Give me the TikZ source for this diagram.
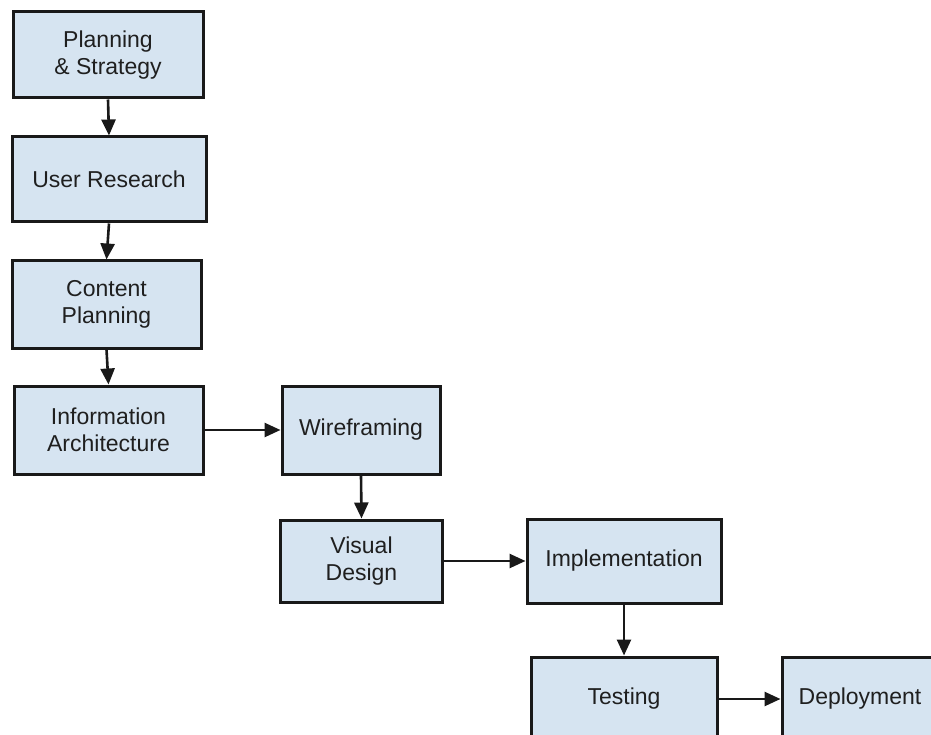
\documentclass[tikz,border=0pt]{standalone}
\usepackage{fontspec}
\setmainfont{Liberation Sans}
\usetikzlibrary{arrows.meta}
\definecolor{boxblue}{RGB}{214,228,241}
\definecolor{edge}{RGB}{25,25,25}
\begin{document}
\begin{tikzpicture}[x=1pt,y=-1pt,
  stage/.style={draw=edge, line width=3pt, fill=boxblue, align=center,
    inner sep=0pt, text=black!88,
    font=\fontsize{23}{26.5}\selectfont},
  flow/.style={draw=edge, line width=2.6pt,
    -{Triangle[length=16pt,width=14pt]}}]
  % white page and clipping frame
  \fill[white] (0,0) rectangle (931,735);
  \clip (0,0) rectangle (931,735);

  % process stages
  \node[stage, minimum width=190pt, minimum height=86pt] (ps) at (108,55) {Planning\\\& Strategy};
  \node[stage, minimum width=194pt, minimum height=85pt] (ur) at (109,179.5) {User Research};
  \node[stage, minimum width=189pt, minimum height=87pt] (cp) at (106.5,304.5) {Content\\Planning};
  \node[stage, minimum width=189pt, minimum height=88pt] (ia) at (108.5,430) {Information\\Architecture};
  \node[stage, minimum width=158pt, minimum height=88pt] (wf) at (361,430) {Wireframing};
  \node[stage, minimum width=162pt, minimum height=82pt] (vd) at (361.5,561) {Visual\\Design};
  \node[stage, minimum width=194pt, minimum height=84pt] (im) at (624,561) {Implementation};
  \node[stage, minimum width=186pt, minimum height=84pt] (te) at (624,699) {Testing};
  \node[stage, minimum width=156pt, minimum height=84pt] (de) at (860,699) {Deployment};

  % connectors
  \draw[flow] (ps.south) -- (ur.north);
  \draw[flow] (ur.south) -- (cp.north);
  \draw[flow] (cp.south) -- (ia.north);
  \draw[flow] (ia.east) -- (wf.west);
  \draw[flow] (wf.south) -- (vd.north);
  \draw[flow] (vd.east) -- (im.west);
  \draw[flow] (im.south) -- (te.north);
  \draw[flow] (te.east) -- (de.west);
\end{tikzpicture}
\end{document}
